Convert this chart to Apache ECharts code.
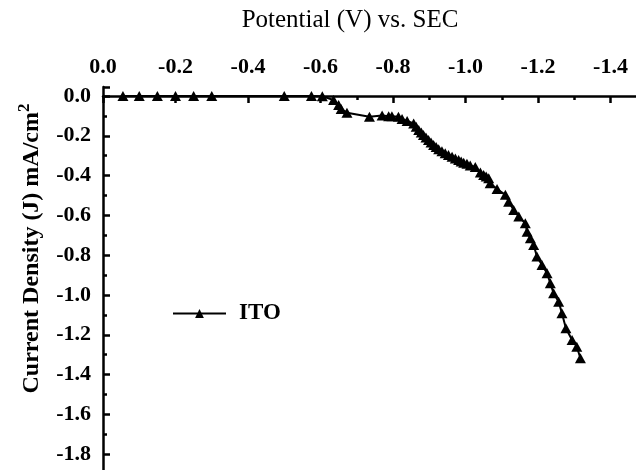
<!DOCTYPE html>
<html>
<head>
<meta charset="utf-8">
<script src="https://cdn.jsdelivr.net/npm/echarts@6/dist/echarts.min.js"></script>
<style>
  html, body { margin: 0; padding: 0; background: #fff; }
  #chart { width: 636px; height: 470px; }
</style>
</head>
<body>
<div id="chart"></div>
<script>
const potential = [-0.055, -0.10, -0.15, -0.20, -0.25, -0.30, -0.50, -0.575, -0.605, -0.636,
  -0.650, -0.657, -0.673, -0.735, -0.770, -0.788, -0.797, -0.815, -0.825, -0.839,
  -0.857, -0.864, -0.871, -0.878, -0.884, -0.891, -0.898, -0.905, -0.912, -0.919,
  -0.926, -0.935, -0.944, -0.953, -0.963, -0.972, -0.981, -0.988, -0.995, -1.004,
  -1.013, -1.027, -1.041, -1.050, -1.057, -1.064, -1.068, -1.087, -1.110, -1.119,
  -1.133, -1.147, -1.165, -1.170, -1.179, -1.188, -1.197, -1.211, -1.225, -1.234,
  -1.243, -1.257, -1.266, -1.277, -1.294, -1.307, -1.317];
const current = [0, 0, 0, 0, 0, 0, 0, 0, -0.002, -0.020,
  -0.045, -0.065, -0.084, -0.105, -0.098, -0.102, -0.102, -0.104, -0.116, -0.126,
  -0.138, -0.155, -0.171, -0.184, -0.196, -0.209, -0.221, -0.234, -0.246, -0.257,
  -0.268, -0.278, -0.288, -0.297, -0.305, -0.314, -0.322, -0.329, -0.335, -0.341,
  -0.349, -0.357, -0.384, -0.397, -0.405, -0.414, -0.439, -0.468, -0.497, -0.531,
  -0.573, -0.606, -0.640, -0.682, -0.715, -0.749, -0.807, -0.849, -0.891, -0.941,
  -0.991, -1.034, -1.092, -1.167, -1.226, -1.260, -1.318];

const font = "'Liberation Serif', 'Times New Roman', serif";
const chart = echarts.init(document.getElementById("chart"));

const axisCommon = {
  axisLine: { lineStyle: { color: "#000", width: 2.5 } },
  axisTick: { inside: true, length: 7, lineStyle: { color: "#000", width: 2.5 } },
  minorTick: { show: true, splitNumber: 2, length: 4, lineStyle: { color: "#000", width: 2.5 } },
  splitLine: { show: false },
  axisLabel: {
    color: "#000", fontFamily: font, fontWeight: "bold", fontSize: 22,
    formatter: (v) => v.toFixed(1)
  }
};

chart.setOption({
  animation: false,
  grid: { left: 103, top: 87, right: -47, bottom: -24, outerBoundsMode: "none", containLabel: false },
  legend: {
    left: 167, top: 297,
    itemWidth: 53, itemHeight: 11, itemGap: 10,
    textStyle: { color: "#000", fontFamily: font, fontWeight: "bold", fontSize: 23, padding: [0, 0, 0, 8] },
    data: ["ITO"]
  },
  xAxis: Object.assign({}, axisCommon, {
    type: "value", position: "top", inverse: true,
    min: -1.6, max: 0, interval: 0.2,
    name: "Potential (V) vs. SEC", nameLocation: "middle", nameGap: 54,
    nameTextStyle: { color: "#000", fontFamily: font, fontSize: 25, padding: [0, 86, 0, 0] },
    axisLabel: Object.assign({}, axisCommon.axisLabel, { margin: 9 })
  }),
  yAxis: Object.assign({}, axisCommon, {
    type: "value", min: -2.0, max: 0.045, interval: 0.2,
    name: "Current Density (J) mA/cm{sup|2}", nameLocation: "middle", nameGap: 56, nameRotate: 90,
    nameTextStyle: {
      color: "#000", fontFamily: font, fontWeight: "bold", fontSize: 24, padding: [0, 0, 0, 84],
      rich: { sup: { fontSize: 17, fontWeight: "bold", fontFamily: font, padding: [0, 0, 14, 0] } }
    },
    axisLabel: Object.assign({}, axisCommon.axisLabel, { margin: 12, showMaxLabel: false })
  }),
  series: [{
    name: "ITO",
    type: "line",
    data: potential.map((p, i) => [p, current[i]]),
    symbol: "triangle",
    symbolSize: [11, 10],
    itemStyle: { color: "#000" },
    lineStyle: { color: "#000", width: 2 }
  }]
});
</script>
</body>
</html>
